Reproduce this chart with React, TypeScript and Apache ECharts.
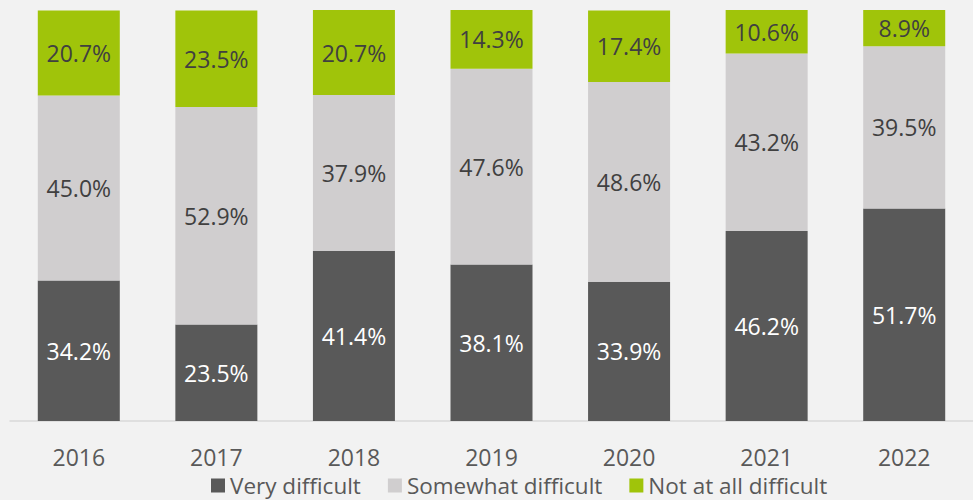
import React, { useEffect, useRef } from "react";
import * as echarts from "echarts";

const categories = ["2016", "2017", "2018", "2019", "2020", "2021", "2022"];
const veryDifficult = [34.2, 23.5, 41.4, 38.1, 33.9, 46.2, 51.7];
const somewhatDifficult = [45.0, 52.9, 37.9, 47.6, 48.6, 43.2, 39.5];
const notAtAllDifficult = [20.7, 23.5, 20.7, 14.3, 17.4, 10.6, 8.9];
const seriesNames = ["Very difficult", "Somewhat difficult", "Not at all difficult"];

const FONT = "'Open Sans', sans-serif";

export default function App() {
  const ref = useRef<HTMLDivElement>(null);
  useEffect(() => {
    if (!ref.current) return;
    const chart = echarts.init(ref.current, null, { renderer: "svg" });
    const mk = (name: string, data: number[], color: string, labelColor: string) => ({
      name,
      type: "bar",
      stack: "total",
      data,
      barWidth: 82,
      itemStyle: { color },
      label: {
        show: true,
        position: "inside",
        formatter: (p: any) => p.value.toFixed(1) + "%",
        color: labelColor,
        fontSize: 23,
        fontFamily: FONT,
      },
    });
    chart.setOption({
      animation: false,
      backgroundColor: "#f2f2f2",
      grid: { left: 10, right: 0, top: 10, bottom: 79, containLabel: false },
      legend: {
        left: 211,
        top: 474,
        padding: 0,
        itemWidth: 14,
        itemHeight: 14,
        itemGap: 27,
        icon: "rect",
        textStyle: {
          fontSize: 22.5,
          lineHeight: 22,
          fontFamily: FONT,
          color: "#595959",
          padding: [0, 0, 0, 0],
        },
        data: seriesNames,
      },
      xAxis: {
        type: "category",
        data: categories,
        axisLine: { show: true, lineStyle: { color: "#d9d9d9", width: 1.5 } },
        axisTick: { show: false },
        axisLabel: {
          fontSize: 23,
          lineHeight: 24,
          fontFamily: FONT,
          color: "#595959",
          margin: 24,
        },
      },
      yAxis: {
        type: "value",
        min: 0,
        max: 100,
        show: false,
      },
      series: [
        mk(seriesNames[0], veryDifficult, "#595959", "#ffffff"),
        mk(seriesNames[1], somewhatDifficult, "#d0cecf", "#404040"),
        mk(seriesNames[2], notAtAllDifficult, "#a0c40a", "#404040"),
      ],
    });
    return () => chart.dispose();
  }, []);
  return <div ref={ref} style={{ width: 973, height: 500, position: "absolute", left: 0, top: 0 }} />;
}
